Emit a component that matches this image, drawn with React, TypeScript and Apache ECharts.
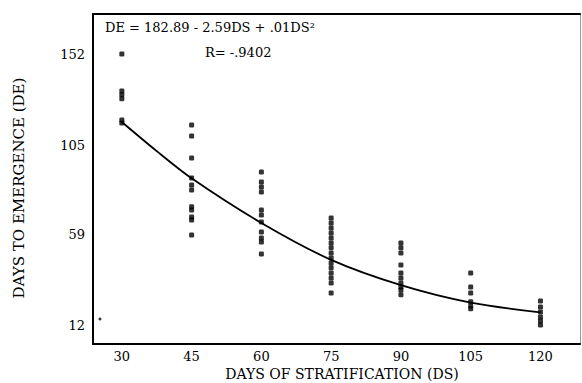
import React, { useEffect, useRef } from "react";
import * as echarts from "echarts";

// Tick labels
const xTicks = [30, 45, 60, 75, 90, 105, 120];
const yTicks = [12, 59, 105, 152];

// Observed days to emergence, by days of stratification
const ds30 = [152, 133, 131, 129, 118, 116.5];
const ds45 = [115.5, 109.8, 98.5, 88.2, 84.6, 82, 73.3, 71.7, 68.1, 66.6, 58.8];
const ds60 = [91.3, 86.1, 83.5, 81, 71.7, 69.1, 65.5, 60.4, 57.3, 55.2, 49.1];
const ds75 = [67.6, 65, 62.4, 59.9, 57.3, 54.7, 52.2, 49.6, 47, 44.4, 41.9, 39.3, 36.7, 34.1, 29];
const ds90 = [54.7, 52.2, 49.6, 43.4, 39.3, 36.7, 34.1, 32.1, 30.5, 28];
const ds105 = [39.3, 32.1, 29, 24.4, 22.3, 20.8];
const ds120 = [24.9, 21.8, 19.2, 16.6, 14.6, 12.5];
const columns = [ds30, ds45, ds60, ds75, ds90, ds105, ds120];

// Stray point near the origin
const strayX = [25.3];
const strayY = [15.6];

// Fitted curve as drawn
const curveX = [30, 37.5, 45, 60, 75, 90, 105, 120];
const curveY = [117, 102, 88, 65, 46, 33, 24, 19];

const FONT = "'DejaVu Serif', 'Liberation Serif', serif";

export default function App() {
  const ref = useRef<HTMLDivElement>(null);

  useEffect(() => {
    if (!ref.current) return;
    const chart = echarts.init(ref.current, null, { renderer: "svg" });

    const points: number[][] = [];
    columns.forEach((vals, i) => {
      vals.forEach((v) => points.push([xTicks[i], v]));
    });

    chart.setOption({
      animation: false,
      backgroundColor: "#fff",
      grid: { left: 93, top: 14, right: 2, bottom: 39, containLabel: false },
      xAxis: [
        {
          type: "value",
          min: 23.8,
          max: 128.5,
          axisLine: { show: true, onZero: false, lineStyle: { color: "#000", width: 2 } },
          axisTick: { show: false },
          splitLine: { show: false },
          axisLabel: {
            customValues: xTicks,
            color: "#000",
            fontFamily: FONT,
            fontSize: 13,
            margin: 6,
          },
        },
        {
          type: "value",
          position: "top",
          min: 23.8,
          max: 128.5,
          axisLine: { show: true, onZero: false, lineStyle: { color: "#000", width: 2 } },
          axisTick: { show: false },
          axisLabel: { show: false },
          splitLine: { show: false },
        },
      ],
      yAxis: [
        {
          type: "value",
          min: 2.7,
          max: 172.6,
          axisLine: { show: true, onZero: false, lineStyle: { color: "#000", width: 2 } },
          axisTick: { show: false },
          splitLine: { show: false },
          axisLabel: {
            customValues: yTicks,
            color: "#000",
            fontFamily: FONT,
            fontSize: 13,
            margin: 8,
          },
        },
        {
          type: "value",
          position: "right",
          min: 2.7,
          max: 172.6,
          axisLine: { show: true, onZero: false, lineStyle: { color: "#999", width: 1 } },
          axisTick: { show: false },
          axisLabel: { show: false },
          splitLine: { show: false },
        },
      ],
      series: [
        {
          type: "line",
          data: curveX.map((x, i) => [x, curveY[i]]),
          smooth: 0.3,
          showSymbol: false,
          lineStyle: { color: "#000", width: 1.8 },
          z: 2,
        },
        {
          type: "scatter",
          data: points,
          symbol: "roundRect",
          symbolSize: [5, 5],
          itemStyle: { color: "#000" },
          z: 3,
        },
        {
          type: "scatter",
          data: strayX.map((x, i) => [x, strayY[i]]),
          symbol: "circle",
          symbolSize: 3,
          itemStyle: { color: "#000" },
          z: 3,
        },
      ],
      graphic: [
        {
          type: "text",
          left: 105,
          top: 21,
          style: {
            text: "DE = 182.89 - 2.59DS + .01DS²",
            fontFamily: FONT,
            fontSize: 13,
            fill: "#000",
          },
        },
        {
          type: "text",
          left: 205,
          top: 46,
          style: {
            text: "R= -.9402",
            fontFamily: FONT,
            fontSize: 13,
            fill: "#000",
          },
        },
        {
          type: "text",
          x: 342,
          y: 374,
          style: {
            text: "DAYS OF STRATIFICATION (DS)",
            fontFamily: FONT,
            fontSize: 14,
            fill: "#000",
            align: "center",
            verticalAlign: "middle",
          },
        },
        {
          type: "text",
          x: 19,
          y: 188,
          rotation: Math.PI / 2,
          style: {
            text: "DAYS TO EMERGENCE (DE)",
            fontFamily: FONT,
            fontSize: 15,
            fill: "#000",
            align: "center",
            verticalAlign: "middle",
          },
        },
      ],
    });

    return () => chart.dispose();
  }, []);

  return <div ref={ref} style={{ width: 582, height: 383, position: "absolute", left: 0, top: 0 }} />;
}
